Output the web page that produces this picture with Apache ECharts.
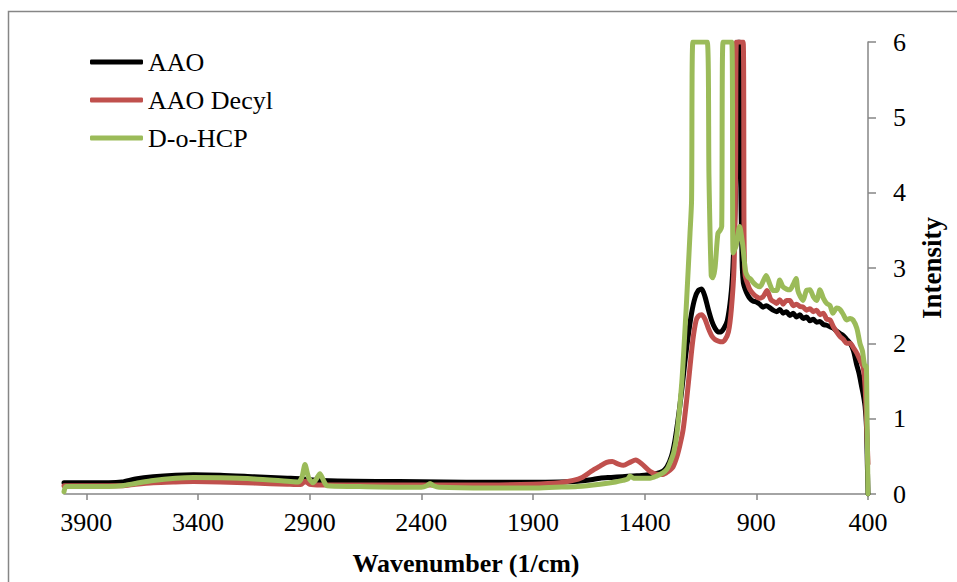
<!DOCTYPE html>
<html>
<head>
<meta charset="utf-8">
<script src="https://cdn.jsdelivr.net/npm/echarts@6/dist/echarts.min.js"></script>
<style>
html,body{margin:0;padding:0;background:#fff;}
#chart{width:957px;height:582px;}
</style>
</head>
<body>
<div id="chart"></div>
<script>
// ---- Data ----
const seriesNames = ['AAO', 'AAO Decyl', 'D-o-HCP'];
const xTickValues = [3900, 3400, 2900, 2400, 1900, 1400, 900, 400];

const aaoX = [4000,3800,3740,3680,3600,3500,3420,3300,3150,3000,2930,2900,2850,2700,2500,2300,2100,1900,1780,1700,1640,1600,1550,1500,1450,1400,1350,1320,1300,1280,1265,1250,1235,1220,1205,1190,1175,1160,1145,1130,1115,1100,1085,1070,1060,1045,1030,1015,1005,995,986,980,976,970,964,958,950,940,930,915,900,885,870,855,839,825,809,795,780,765,750,735,720,705,690,675,660,645,630,615,600,585,570,555,540,525,510,495,480,465,451,440,428,420,413,407,403,400];
const aaoY = [0.15,0.15,0.16,0.2,0.23,0.25,0.255,0.25,0.23,0.21,0.2,0.19,0.18,0.17,0.165,0.16,0.155,0.155,0.16,0.17,0.19,0.21,0.22,0.23,0.24,0.25,0.27,0.3,0.36,0.5,0.7,1.0,1.35,1.75,2.1,2.4,2.6,2.7,2.72,2.62,2.45,2.3,2.2,2.15,2.15,2.2,2.3,2.6,3.0,3.8,5.2,6,6,4.2,3.1,2.8,2.72,2.65,2.6,2.56,2.55,2.52,2.48,2.5,2.47,2.44,2.42,2.45,2.4,2.42,2.37,2.4,2.35,2.38,2.33,2.35,2.3,2.32,2.28,2.29,2.25,2.24,2.22,2.2,2.16,2.13,2.1,2.05,2.0,1.9,1.72,1.6,1.42,1.3,1.16,0.9,0.4,0];

const decylX = [4000,3800,3740,3680,3600,3500,3420,3300,3150,3000,2940,2920,2900,2850,2700,2500,2300,2100,1900,1780,1720,1680,1640,1600,1570,1545,1520,1495,1466,1440,1413,1376,1340,1318,1295,1273,1255,1242,1228,1212,1197,1184,1170,1160,1145,1130,1115,1100,1085,1070,1055,1040,1025,1012,1000,993,989,959,955,950,940,930,915,900,885,870,852,835,820,809,795,780,765,750,735,720,705,690,675,660,645,630,615,600,585,570,555,540,525,510,496,480,467,450,436,422,413,406,400];
const decylY = [0.11,0.11,0.11,0.13,0.15,0.16,0.165,0.16,0.145,0.13,0.125,0.17,0.13,0.12,0.12,0.12,0.12,0.12,0.13,0.15,0.18,0.22,0.3,0.37,0.42,0.43,0.4,0.38,0.42,0.45,0.4,0.3,0.26,0.26,0.3,0.36,0.5,0.65,0.85,1.25,1.69,2.05,2.3,2.36,2.38,2.32,2.2,2.1,2.05,2.03,2.02,2.05,2.15,2.45,3.0,4.2,6,6,3.4,2.9,2.8,2.72,2.66,2.62,2.6,2.62,2.7,2.58,2.55,2.53,2.58,2.52,2.57,2.57,2.5,2.52,2.49,2.48,2.44,2.46,2.42,2.44,2.38,2.4,2.32,2.31,2.22,2.15,2.09,2.05,2.0,2.0,1.95,1.87,1.78,1.69,1.42,0.9,0.4,0];

const hcpX = [4000,3990,3800,3740,3680,3600,3500,3420,3300,3150,3000,2950,2935,2921,2905,2885,2870,2854,2838,2822,2700,2500,2400,2375,2361,2345,2320,2100,1900,1800,1700,1600,1530,1497,1475,1466,1450,1434,1400,1376,1345,1318,1300,1287,1270,1255,1234,1212,1197,1190,1184,1120,1112,1102,1095,1085,1072,1062,1055,1049,1010,1004,990,975,962,948,937,925,912,900,884,870,856,839,825,809,795,781,765,750,735,722,714,703,691,676,660,645,630,615,600,585,570,557,540,525,510,496,480,467,450,436,425,413,408,405,400];
const hcpY = [0.03,0.1,0.1,0.11,0.14,0.18,0.21,0.22,0.215,0.2,0.17,0.16,0.22,0.39,0.22,0.15,0.2,0.27,0.18,0.11,0.1,0.09,0.09,0.11,0.14,0.11,0.09,0.08,0.08,0.09,0.1,0.13,0.16,0.18,0.2,0.24,0.21,0.21,0.21,0.21,0.24,0.28,0.33,0.41,0.55,0.81,1.47,2.58,3.46,3.9,6,6,4.2,2.9,2.87,3.0,3.46,3.5,3.55,6,6,3.2,3.3,3.55,3.33,2.95,2.88,2.85,2.8,2.77,2.75,2.82,2.9,2.78,2.7,2.7,2.84,2.75,2.72,2.71,2.78,2.86,2.7,2.62,2.57,2.7,2.71,2.62,2.57,2.71,2.6,2.53,2.5,2.4,2.47,2.45,2.38,2.31,2.33,2.31,2.2,2.0,1.9,1.69,1.7,1.2,0];

const colors = ['#000000', '#C0504D', '#9BBB59'];

// ---- Build ----
function pairs(xs, ys) { return xs.map((x, i) => [x, ys[i]]); }
const dataSets = [pairs(aaoX, aaoY), pairs(decylX, decylY), pairs(hcpX, hcpY)];

const FONT = 'Liberation Serif';
const chart = echarts.init(document.getElementById('chart'), null, {renderer: 'svg'});
chart.setOption({
  animation: false,
  backgroundColor: '#ffffff',
  textStyle: {fontFamily: FONT},
  grid: {left: 64, right: 89, top: 42, bottom: 88, containLabel: false},
  xAxis: {
    type: 'value', min: 400, max: 4000, inverse: true,
    axisLine: {show: true, lineStyle: {color: '#868686', width: 1.5}},
    axisTick: {show: true, inside: false, length: 6, lineStyle: {color: '#868686', width: 1.5}, customValues: xTickValues},
    axisLabel: {color: '#000', fontFamily: FONT, fontSize: 26, margin: 15, customValues: xTickValues,
                formatter: function (v) { return String(v); }},
    splitLine: {show: false}
  },
  yAxis: {
    type: 'value', position: 'right', min: 0, max: 6, interval: 1,
    axisLine: {show: true, lineStyle: {color: '#868686', width: 1.5}},
    axisTick: {show: true, inside: false, length: 8, lineStyle: {color: '#868686', width: 1.5}},
    axisLabel: {color: '#000', fontFamily: FONT, fontSize: 26, margin: 25},
    splitLine: {show: false}
  },
  legend: {
    orient: 'vertical', left: 85, top: 44,
    itemWidth: 53, itemHeight: 5, itemGap: 12,
    icon: 'roundRect',
    textStyle: {color: '#000', fontFamily: FONT, fontSize: 26, lineHeight: 26},
    data: seriesNames
  },
  graphic: [
    {type: 'rect', silent: true, z: -10, shape: {x: 8.5, y: 11.5, width: 1200, height: 1200},
     style: {fill: 'none', stroke: '#868686', lineWidth: 1.5}},
    {type: 'text', x: 466, y: 563, silent: true,
     style: {text: 'Wavenumber (1/cm)', fill: '#000', fontFamily: FONT, fontWeight: 'bold', fontSize: 26, align: 'center', verticalAlign: 'middle'}},
    {type: 'text', x: 932, y: 268, rotation: Math.PI / 2, silent: true,
     style: {text: 'Intensity', fill: '#000', fontFamily: FONT, fontWeight: 'bold', fontSize: 27, align: 'center', verticalAlign: 'middle'}}
  ],
  series: seriesNames.map((name, i) => ({
    name: name, type: 'line', data: dataSets[i],
    showSymbol: false, symbol: 'none', smooth: 0.25, clip: true,
    lineStyle: {color: colors[i], width: 5, cap: 'round', join: 'round'},
    itemStyle: {color: colors[i]}
  }))
});
</script>
</body>
</html>
